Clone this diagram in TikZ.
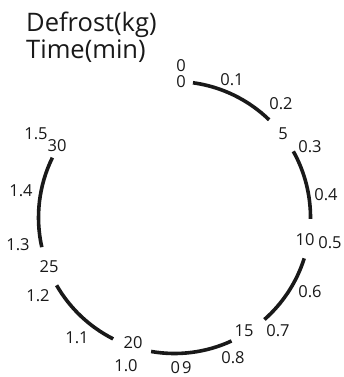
\documentclass[tikz,border=0pt]{standalone}
\usepackage{fontspec}
\setmainfont{Open Sans}
\begin{document}
\begin{tikzpicture}[x=1pt,y=1pt,
  lbl/.style={inner sep=0pt, font=\fontsize{16.5}{18}\selectfont, text=black!90},
  ttl/.style={inner sep=0pt, anchor=base west, font=\fontsize{25.5}{28}\selectfont, text=black!90},
  ring/.style={line width=3.6pt, black!90}]
\useasboundingbox (0,0) rectangle (343,377);
\coordinate (c) at (174.5,159.5);
\node[ttl] (t1) at (26,345.3) {Defrost(kg)};
\node[ttl] (t2) at (26,318.7) {Time(min)};
% arcs
\foreach \a/\b in {82.2/45.9, 29.1/-0.6, -17.5/-48.6, -65.2/-99.9, -116.8/-150.1, -167.4/-206.1}
  \draw[ring] (c) ++(\a:136) arc[start angle=\a, end angle=\b, radius=136];
% labels
\node[lbl] (k0) at (181,311) {0};
\node[lbl] (m0) at (181,295) {0};
\node[lbl] (k1) at (232,297.5) {0.1};
\node[lbl] (k2) at (281,273) {0.2};
\node[lbl] (m5) at (283,243.5) {5};
\node[lbl] (k3) at (310,230) {0.3};
\node[lbl] (k4) at (326,182) {0.4};
\node[lbl] (m10) at (305,137) {10};
\node[lbl] (k5) at (330,134) {0.5};
\node[lbl] (k6) at (310,85) {0.6};
\node[lbl] (m15) at (244,46) {15};
\node[lbl] (k7) at (278,46) {0.7};
\node[lbl] (k8) at (233,19) {0.8};
\node[lbl] (k9) at (181,9) {0\kern2pt9};
\node[lbl] (k10) at (126,11) {1.0};
\node[lbl] (m20) at (133,34) {20};
\node[lbl] (k11) at (77,39) {1.1};
\node[lbl] (k12) at (38,81) {1.2};
\node[lbl] (m25) at (49,110) {25};
\node[lbl] (k13) at (18,132) {1.3};
\node[lbl] (k14) at (21,186) {1.4};
\node[lbl] (k15) at (36,243) {1.5};
\node[lbl] (m30) at (57,231) {30};
\end{tikzpicture}
\end{document}
